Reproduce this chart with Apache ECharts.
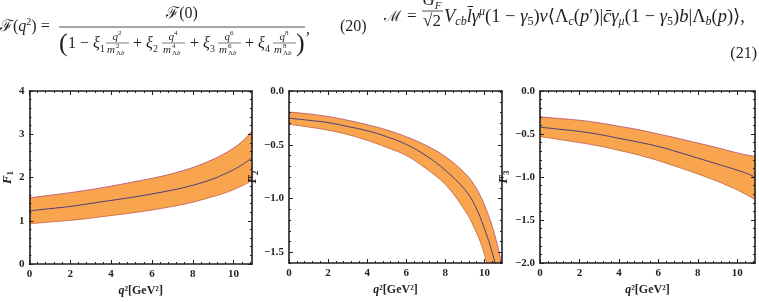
<!DOCTYPE html>
<html>
<head>
<meta charset="utf-8">
<script src="https://cdn.jsdelivr.net/npm/echarts@6/dist/echarts.min.js"></script>
<style>
  html, body { margin: 0; padding: 0; background: #fff; }
  #chart { width: 759px; height: 302px; }
</style>
</head>
<body>
<div id="chart"></div>
<script>
// q^2 取样点
var q2 = [0, 1, 2, 3, 4, 5, 6, 7, 8, 9, 9.5, 10, 10.5, 10.9];

// F1 中心值 / 上界 / 下界
var f1Mid = [1.23, 1.28, 1.33, 1.40, 1.47, 1.54, 1.62, 1.71, 1.82, 1.97, 2.07, 2.18, 2.32, 2.46];
var f1Up  = [1.53, 1.59, 1.65, 1.72, 1.80, 1.89, 1.98, 2.09, 2.23, 2.42, 2.54, 2.68, 2.87, 3.08];
var f1Low = [0.93, 0.97, 1.01, 1.06, 1.12, 1.18, 1.25, 1.33, 1.43, 1.56, 1.63, 1.72, 1.83, 1.93];

// F2
var f2Mid = [-0.253, -0.272, -0.294, -0.33, -0.37, -0.425, -0.497, -0.60, -0.737, -0.918, -1.06, -1.28, -1.57, -1.92];
var f2Up  = [-0.196, -0.213, -0.237, -0.272, -0.313, -0.362, -0.425, -0.505, -0.61, -0.765, -0.88, -1.06, -1.32, -1.62];
var f2Low = [-0.31, -0.335, -0.364, -0.405, -0.459, -0.525, -0.60, -0.72, -0.87, -1.11, -1.28, -1.52, -1.95, -2.4];

// F3
var f3Mid = [-0.42, -0.445, -0.47, -0.505, -0.55, -0.595, -0.645, -0.71, -0.78, -0.85, -0.885, -0.92, -0.96, -1.00];
var f3Up  = [-0.30, -0.32, -0.34, -0.37, -0.41, -0.45, -0.50, -0.55, -0.605, -0.66, -0.69, -0.72, -0.745, -0.76];
var f3Low = [-0.53, -0.565, -0.60, -0.64, -0.69, -0.745, -0.81, -0.885, -0.965, -1.05, -1.10, -1.15, -1.21, -1.26];

// 刻度
var xTicks = [0, 2, 4, 6, 8, 10];
var f1Ticks = [0, 1, 2, 3, 4];
var f2Ticks = [-1.5, -1, -0.5, 0];
var f3Ticks = [-2, -1.5, -1, -0.5, 0];

var X_MAX = 10.9;
var SERIF = '"Liberation Serif", "DejaVu Serif", serif';
var INK = '#231f20';

function steps(a, b, d) {
  var out = [];
  for (var v = a; v <= b + 1e-9; v += d) out.push(Math.round(v * 1000) / 1000);
  return out;
}
function pairs(vals) {
  return q2.map(function (q, i) { return [q, vals[i]]; });
}

var grids = [], xAxes = [], yAxes = [], series = [];

// 边框 + 刻度（朝内）
function frameAxis(gi, pos, min, max, ticks, len, lineOn, extra) {
  var ax = {
    type: 'value', gridIndex: gi, position: pos, min: min, max: max, z: 5,
    axisLine: { show: lineOn, onZero: false, lineStyle: { color: INK, width: 1.6 } },
    axisTick: { show: true, inside: true, length: len, customValues: ticks, lineStyle: { color: INK, width: 1 } },
    axisLabel: { show: false },
    splitLine: { show: false }
  };
  return extra ? Object.assign(ax, extra) : ax;
}

var tickLabel = { fontFamily: SERIF, fontWeight: 'bold', fontSize: 11, color: INK, margin: 5 };

function addPanel(box, yMin, yMax, yMajor, yStep, yFmt, yName, yGap, up, lo, mid) {
  var gi = grids.length;
  grids.push(box);
  var xMinor = steps(0, X_MAX, 0.4);
  var yMinor = steps(yMin, yMax, yStep);
  var xi = xAxes.length, yi = yAxes.length;

  xAxes.push(frameAxis(gi, 'bottom', 0, X_MAX, xTicks, 4, true, {
    axisLabel: Object.assign({ customValues: xTicks, formatter: function (v) { return String(v); } }, tickLabel),
    name: '{i|q}{n|²[GeV²]}', nameLocation: 'middle', nameGap: 21,
    nameTextStyle: { rich: {
      i: { fontFamily: SERIF, fontStyle: 'italic', fontWeight: 'bold', fontSize: 12, color: INK },
      n: { fontFamily: SERIF, fontWeight: 'bold', fontSize: 12, color: INK }
    } }
  }));
  xAxes.push(frameAxis(gi, 'bottom', 0, X_MAX, xMinor, 2, false));
  xAxes.push(frameAxis(gi, 'top', 0, X_MAX, xTicks, 4, true));
  xAxes.push(frameAxis(gi, 'top', 0, X_MAX, xMinor, 2, false));

  yAxes.push(frameAxis(gi, 'left', yMin, yMax, yMajor, 4, true, {
    axisLabel: Object.assign({ customValues: yMajor, formatter: yFmt }, tickLabel),
    name: '{i|F}{sub|' + yName + '}', nameLocation: 'middle', nameGap: yGap,
    nameTextStyle: { rich: {
      i: { fontFamily: SERIF, fontStyle: 'italic', fontWeight: 'bold', fontSize: 13, lineHeight: 15, color: INK },
      sub: { fontFamily: SERIF, fontWeight: 'bold', fontSize: 9, lineHeight: 9, verticalAlign: 'bottom', color: INK }
    } }
  }));
  yAxes.push(frameAxis(gi, 'left', yMin, yMax, yMinor, 2, false));
  yAxes.push(frameAxis(gi, 'right', yMin, yMax, yMajor, 4, true));
  yAxes.push(frameAxis(gi, 'right', yMin, yMax, yMinor, 2, false));

  // 误差带：上界填橙色到底，下界填白色到底，再画中心线
  series.push({
    type: 'line', xAxisIndex: xi, yAxisIndex: yi, data: pairs(up), smooth: 0.4, symbol: 'none',
    lineStyle: { color: '#b04c6c', width: 0.8 },
    areaStyle: { color: '#f9a54f', opacity: 1, origin: 'start' }
  });
  series.push({
    type: 'line', xAxisIndex: xi, yAxisIndex: yi, data: pairs(lo), smooth: 0.4, symbol: 'none',
    lineStyle: { color: '#c2603e', width: 0.8 },
    areaStyle: { color: '#ffffff', opacity: 1, origin: 'start' }
  });
  series.push({
    type: 'line', xAxisIndex: xi, yAxisIndex: yi, data: pairs(mid), smooth: 0.4, symbol: 'none',
    lineStyle: { color: '#4b3f78', width: 1 }
  });
}

function intFmt(v) { return String(v); }
function decFmt(v) { return v.toFixed(1).replace('-', '\u2212'); }

addPanel({ left: 25, top: 91, width: 227, height: 173 }, 0, 4, f1Ticks, 0.2, intFmt, '1', 12, f1Up, f1Low, f1Mid);
addPanel({ left: 289, top: 91, width: 213, height: 172 }, -1.6, 0, f2Ticks, 0.1, decFmt, '2', 21, f2Up, f2Low, f2Mid);
addPanel({ left: 540, top: 91, width: 215, height: 172 }, -2, 0, f3Ticks, 0.1, decFmt, '3', 25, f3Up, f3Low, f3Mid);

// 公式文字
function eqRich(size) {
  var s = Math.round(size * 0.64);
  return {
    n: { fontFamily: SERIF, fontSize: size, lineHeight: size + 4, fill: INK },
    i: { fontFamily: SERIF, fontStyle: 'italic', fontSize: size, lineHeight: size + 4, fill: INK },
    sup: { fontFamily: SERIF, fontSize: s, lineHeight: s, verticalAlign: 'top', fill: INK },
    isup: { fontFamily: SERIF, fontStyle: 'italic', fontSize: s, lineHeight: s, verticalAlign: 'top', fill: INK },
    sub: { fontFamily: SERIF, fontSize: s, lineHeight: s, verticalAlign: 'bottom', fill: INK },
    isub: { fontFamily: SERIF, fontStyle: 'italic', fontSize: s, lineHeight: s, verticalAlign: 'bottom', fill: INK }
  };
}
function eq(x, y, str, size, align) {
  return {
    type: 'text', x: x, y: y, silent: true,
    style: { text: str, rich: eqRich(size), align: align || 'left', textAlign: align || 'left',
      verticalAlign: 'middle', textVerticalAlign: 'middle' }
  };
}
function rule(x1, x2, y, w) {
  return { type: 'line', silent: true, shape: { x1: x1, y1: y, x2: x2, y2: y }, style: { stroke: INK, lineWidth: w || 0.8 } };
}
function smallFrac(x, p) {
  return [
    eq(x + 11, 37, '{i|q}{sup|' + p + '}', 11, 'center'),
    rule(x, x + 23, 43, 0.6),
    eq(x + 1, 50, '{i|m}', 11),
    eq(x + 10, 46.5, '{n|' + p + '}', 7),
    eq(x + 10, 53.5, '{n|Λ}{i|b}', 7)
  ];
}

var graphics = [
  eq(0, 27, '{n|ℱ(}{i|q}{sup|2}{n|) =}', 16),
  eq(182, 14, '{n|ℱ(0)}', 16, 'center'),
  rule(59, 305, 27, 0.8),
  eq(59, 44, '{n|(}', 26),
  eq(68, 44, '{n|1 − }{i|ξ}{sub|1}', 16),
  eq(133, 44, '{n|+ }{i|ξ}{sub|2}', 16),
  eq(190, 44, '{n|+ }{i|ξ}{sub|3}', 16),
  eq(245, 44, '{n|+ }{i|ξ}{sub|4}', 16),
  eq(296, 44, '{n|)}', 26),
  eq(306, 30, '{n|,}', 16),
  eq(340, 27, '{n|(20)}', 16),

  eq(384, 17, '{n|ℳ}', 15),
  eq(407, 17, '{n|=}', 17),
  eq(432, 1, '{i|G}{isub|F}', 17, 'center'),
  rule(422, 443, 11, 0.8),
  eq(432, 22, '{n|√2}', 17, 'center'),
  eq(444, 17, '{i|V}{isub|cb}{i|l̄γ}{isup|μ}{n|(1 − }{i|γ}{sub|5}{n|)}{i|ν}{n|⟨Λ}{isub|c}{n|(}{i|p}{n|′)|}{i|c̄γ}{isub|μ}{n|(1 − }{i|γ}{sub|5}{n|)}{i|b}{n||Λ}{isub|b}{n|(}{i|p}{n|)⟩,}', 18.5),
  eq(757, 54, '{n|(21)}', 16, 'right')
];
[106, 162, 218, 273].forEach(function (x, k) {
  graphics = graphics.concat(smallFrac(x, String(2 * (k + 1))));
});

var myChart = echarts.init(document.getElementById('chart'));
myChart.setOption({
  animation: false,
  backgroundColor: '#ffffff',
  grid: grids,
  xAxis: xAxes,
  yAxis: yAxes,
  series: series,
  graphic: graphics
});
</script>
</body>
</html>
